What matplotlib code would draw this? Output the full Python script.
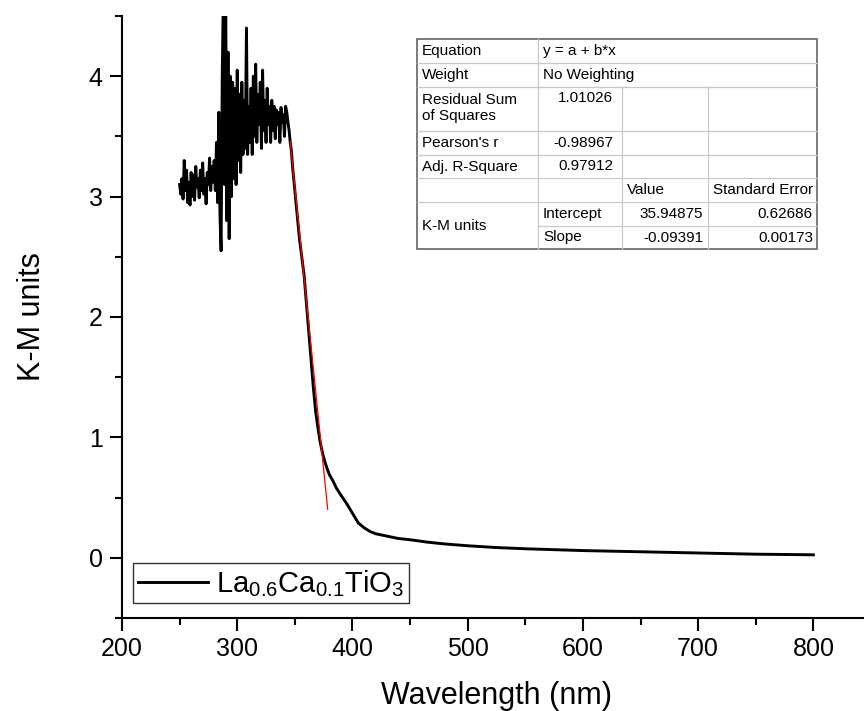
import numpy as np
import matplotlib
matplotlib.use("Agg")
import matplotlib.pyplot as plt
from matplotlib.ticker import MultipleLocator

plt.rcParams['font.family'] = ['Liberation Sans', 'DejaVu Sans']
plt.rcParams['mathtext.default'] = 'regular'

# спектр: шумный участок с шагом 1 нм (250-345 нм)
noisy_wl = np.arange(250, 346)
noisy_km = [
    3.10, 3.02, 3.15, 2.98, 3.30, 3.05, 3.22, 2.95, 3.12, 2.93,
    3.20, 3.00, 3.18, 2.97, 3.25, 3.08, 3.15, 2.99, 3.22, 3.05,
    3.28, 3.02, 3.15, 2.94, 3.20, 3.10, 3.32, 3.05, 3.25, 3.12,
    3.30,
    3.05, 3.45, 2.95, 3.70, 2.85, 2.55, 4.00, 4.70, 3.10, 4.65,
    2.80, 4.20, 2.65, 4.00, 3.00, 3.95, 3.15, 3.90, 3.10, 4.05,
    3.30, 3.85, 3.20, 3.95, 3.35, 3.80, 3.40, 4.40, 3.35, 3.75,
    3.45, 3.90, 3.35, 4.00, 3.50, 4.10, 3.45, 3.85, 3.60, 3.95,
    3.40, 4.05, 3.55, 3.80, 3.45, 3.90, 3.60, 3.75, 3.45, 3.80,
    3.55, 3.75, 3.48, 3.72, 3.60, 3.70, 3.45, 3.74, 3.62, 3.68,
    3.50, 3.75, 3.70, 3.62, 3.55,
]

# край поглощения и хвост
edge_wl = [346, 347, 348, 349, 350, 352, 354, 356, 358, 360, 362, 364, 366,
           368, 370, 372, 374, 376, 378, 380, 383, 386, 390, 395, 400, 405,
           410, 415, 420, 430, 440, 450, 465, 480, 500, 525, 550, 600, 650,
           700, 750, 800]
edge_km = [3.45, 3.38, 3.25, 3.15, 3.05, 2.85, 2.65, 2.50, 2.35, 2.12, 1.88,
           1.65, 1.42, 1.22, 1.08, 0.96, 0.87, 0.80, 0.74, 0.69, 0.64, 0.58,
           0.52, 0.45, 0.37, 0.29, 0.25, 0.22, 0.20, 0.18, 0.16, 0.15, 0.13,
           0.115, 0.10, 0.085, 0.075, 0.06, 0.05, 0.04, 0.03, 0.025]

wavelength = np.concatenate([noisy_wl, edge_wl])
km_units = np.concatenate([noisy_km, edge_km])

# линейная аппроксимация
intercept = 35.94875
slope = -0.09391
fit_range = [346, 378.5]

# таблица результатов
table_rows = [
    ["Equation", "y = a + b*x"],
    ["Weight", "No Weighting"],
    ["Residual Sum\nof Squares", "1.01026"],
    ["Pearson's r", "-0.98967"],
    ["Adj. R-Square", "0.97912"],
]
table_header = ["Value", "Standard Error"]
table_group = "K-M units"
table_params = [
    ["Intercept", "35.94875", "0.62686"],
    ["Slope", "-0.09391", "0.00173"],
]

fig = plt.figure(figsize=(8.64, 7.11), dpi=100)
ax = fig.add_axes([122 / 864, 93 / 711, 749 / 864, 602 / 711])

ax.plot(wavelength, km_units, color='black', lw=2.1,
        label=r'La$_{0.6}$Ca$_{0.1}$TiO$_{3}$', zorder=2)
fx = np.array(fit_range)
ax.plot(fx, intercept + slope * fx, color='red', lw=0.9, zorder=3)

ax.set_xlim(200, 850)
ax.set_ylim(-0.5, 4.5)
ax.xaxis.set_major_locator(MultipleLocator(100))
ax.xaxis.set_minor_locator(MultipleLocator(50))
ax.yaxis.set_major_locator(MultipleLocator(1))
ax.yaxis.set_minor_locator(MultipleLocator(0.5))
ax.spines['top'].set_visible(False)
ax.spines['right'].set_visible(False)
for s in ['left', 'bottom']:
    ax.spines[s].set_linewidth(1.5)
ax.tick_params(which='major', direction='out', length=9, width=1.5,
               labelsize=18, pad=5)
ax.tick_params(which='minor', direction='out', length=5, width=1.5)
ax.set_xlabel('Wavelength (nm)', fontsize=22, labelpad=14)
ax.set_ylabel('K-M units', fontsize=22, labelpad=30)

leg = ax.legend(loc='lower left', bbox_to_anchor=(0.015, 0.025),
                borderaxespad=0, fontsize=21, fancybox=False,
                handlelength=2.4, handletextpad=0.3, borderpad=0.15,
                framealpha=1)
leg.get_frame().set_edgecolor('#333333')
leg.get_frame().set_linewidth(1.0)

# таблица рисуется поверх в пиксельных координатах
tax = fig.add_axes([0, 0, 1, 1])
tax.set_xlim(0, 864)
tax.set_ylim(711, 0)
tax.axis('off')

cols = [417, 538, 622, 708, 817]
rows = [39, 63, 87, 131, 155, 178, 202, 226, 249]
inner = '#c8c8c8'
fs = 11

tax.add_patch(plt.Rectangle((cols[0], rows[0]), cols[-1] - cols[0],
                            rows[-1] - rows[0], facecolor='white',
                            edgecolor='#707070', lw=1.3, zorder=5))
# горизонтальные линии
for i, y in enumerate(rows[1:-1], start=1):
    x0 = cols[1] if i == 7 else cols[0]
    tax.plot([x0, cols[-1]], [y, y], color=inner, lw=0.9, zorder=6)
# вертикальные линии
tax.plot([cols[1], cols[1]], [rows[0], rows[-1]], color=inner, lw=0.9, zorder=6)
for c in cols[2:4]:
    tax.plot([c, c], [rows[2], rows[-1]], color=inner, lw=0.9, zorder=6)

for i, (name, val) in enumerate(table_rows):
    if i == 2:
        tax.text(cols[0] + 5, rows[i] + 6, name, ha='left', va='top',
                 fontsize=fs, linespacing=1.15, zorder=7)
        tax.text(cols[2] - 9, rows[i] + 4, val, ha='right', va='top',
                 fontsize=fs, zorder=7)
        continue
    yc = (rows[i] + rows[i + 1]) / 2
    tax.text(cols[0] + 5, yc, name, ha='left', va='center', fontsize=fs, zorder=7)
    if i < 2:
        tax.text(cols[1] + 5, yc, val, ha='left', va='center', fontsize=fs, zorder=7)
    else:
        tax.text(cols[2] - 9, yc, val, ha='right', va='center', fontsize=fs, zorder=7)

yc = (rows[5] + rows[6]) / 2
tax.text(cols[2] + 5, yc, table_header[0], ha='left', va='center', fontsize=fs, zorder=7)
tax.text(cols[3] + 5, yc, table_header[1], ha='left', va='center', fontsize=fs, zorder=7)
tax.text(cols[0] + 5, rows[7], table_group, ha='left', va='center', fontsize=fs, zorder=7)
for j, (pname, v, err) in enumerate(table_params):
    yc = (rows[6 + j] + rows[7 + j]) / 2
    tax.text(cols[1] + 5, yc, pname, ha='left', va='center', fontsize=fs, zorder=7)
    tax.text(cols[3] - 5, yc, v, ha='right', va='center', fontsize=fs, zorder=7)
    tax.text(cols[4] - 4, yc, err, ha='right', va='center', fontsize=fs, zorder=7)

fig.savefig('out.png', dpi=100)
